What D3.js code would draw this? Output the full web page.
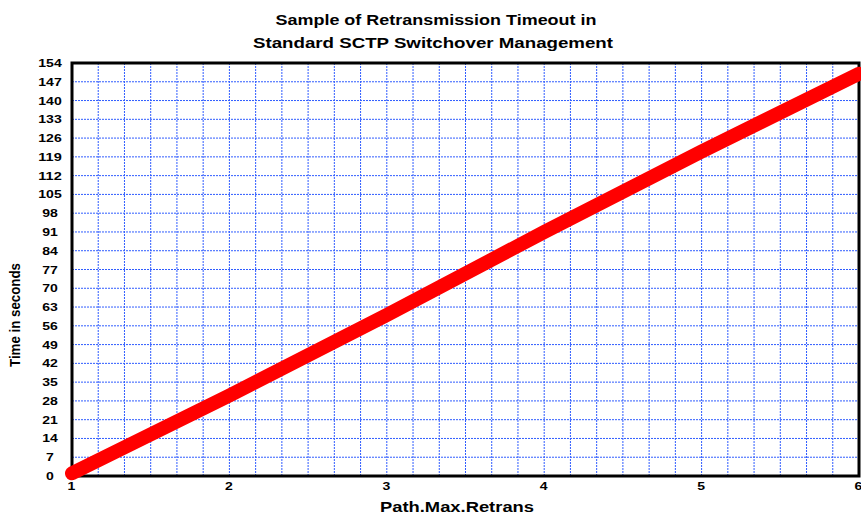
<!DOCTYPE html>
<html>
<head>
<meta charset="utf-8">
<script src="https://cdn.jsdelivr.net/npm/d3@7"></script>
<style>
    body { margin: 0; background: #fff; }
    svg { display: block; font-family: 'Liberation Sans', Arial, sans-serif; font-weight: bold; }
</style>
</head>
<body>
<svg class="main" width="861" height="518"></svg>
<script>
'use strict';

// chart data
var retrans = [1, 2, 3, 4, 5, 6];
var timeout = [1, 30, 60, 91, 121, 150];
var yTicks = d3.range(0, 155, 7);
var xTicks = [1, 2, 3, 4, 5, 6];
var titleLines = ['Sample of Retransmission Timeout in', 'Standard SCTP Switchover Management'];

var svg = d3.select('svg.main');
var plotLeft = 72, plotRight = 859, plotTop = 63, plotBottom = 476;

var x = d3.scaleLinear().domain([1, 6]).range([plotLeft, plotRight]);
var y = d3.scaleLinear().domain([0, 154]).range([plotBottom, plotTop]);

// the reference text is stretched sideways, so widths are set by hand
var digitW = 7.8;

// grid
var grid = svg.append('g').attr('class', 'grid');

grid.selectAll('.hgrid')
    .data(yTicks.slice(1))
    .enter()
    .append('line')
    .attr('x1', plotLeft)
    .attr('x2', plotRight)
    .attr('y1', function (d) { return y(d); })
    .attr('y2', function (d) { return y(d); })
    .attr('stroke', '#2f5cff')
    .attr('stroke-width', 1)
    .attr('stroke-dasharray', '2,1');

grid.selectAll('.vgrid')
    .data(d3.range(1, 30))
    .enter()
    .append('line')
    .attr('x1', function (d) { return x(1 + d / 6); })
    .attr('x2', function (d) { return x(1 + d / 6); })
    .attr('y1', plotTop)
    .attr('y2', plotBottom)
    .attr('stroke', '#2f5cff')
    .attr('stroke-width', 1)
    .attr('stroke-dasharray', '2,1');

// frame
svg.append('rect')
    .attr('x', plotLeft)
    .attr('y', plotTop)
    .attr('width', plotRight - plotLeft)
    .attr('height', plotBottom - plotTop)
    .attr('fill', 'none')
    .attr('stroke', '#000')
    .attr('stroke-width', 3);

// the series
var line = d3.line()
    .x(function (d, i) { return x(retrans[i]); })
    .y(function (d) { return y(d); });

svg.append('path')
    .datum(timeout)
    .attr('d', line)
    .attr('fill', 'none')
    .attr('stroke', '#ff0000')
    .attr('stroke-width', 14)
    .attr('stroke-linecap', 'round')
    .attr('stroke-linejoin', 'round');

// axes
var yAxis = d3.axisLeft(y).tickValues(yTicks).tickSize(0).tickPadding(0);
var yg = svg.append('g')
    .attr('transform', 'translate(50,0)')
    .call(yAxis);
yg.select('.domain').remove();
yg.selectAll('text')
    .attr('text-anchor', 'middle')
    .attr('font-size', 11)
    .attr('font-family', 'Liberation Sans, Arial, sans-serif')
    .attr('font-weight', 'bold')
    .attr('fill', '#000')
    .attr('textLength', function (d) { return String(d).length * digitW; })
    .attr('lengthAdjust', 'spacingAndGlyphs');

var xAxis = d3.axisBottom(x).tickValues(xTicks).tickSize(0).tickPadding(0).tickFormat(d3.format('d'));
var xg = svg.append('g')
    .attr('transform', 'translate(-1,' + (plotBottom + 6) + ')')
    .call(xAxis);
xg.select('.domain').remove();
xg.selectAll('text')
    .attr('font-size', 11)
    .attr('font-family', 'Liberation Sans, Arial, sans-serif')
    .attr('font-weight', 'bold')
    .attr('fill', '#000')
    .attr('textLength', digitW)
    .attr('lengthAdjust', 'spacingAndGlyphs');

// titles
var titleWidths = [321, 360];
svg.selectAll('.title')
    .data(titleLines)
    .enter()
    .append('text')
    .attr('x', function (d, i) { return i ? 433 : 436; })
    .attr('y', function (d, i) { return 25 + i * 23; })
    .attr('text-anchor', 'middle')
    .attr('font-size', 15.5)
    .attr('textLength', function (d, i) { return titleWidths[i]; })
    .attr('lengthAdjust', 'spacingAndGlyphs')
    .text(function (d) { return d; });

svg.append('text')
    .attr('x', 457)
    .attr('y', 512)
    .attr('text-anchor', 'middle')
    .attr('font-size', 14)
    .attr('textLength', 154)
    .attr('lengthAdjust', 'spacingAndGlyphs')
    .text('Path.Max.Retrans');

svg.append('text')
    .attr('transform', 'translate(20,315) rotate(-90)')
    .attr('text-anchor', 'middle')
    .attr('font-size', 15)
    .attr('textLength', 104)
    .attr('lengthAdjust', 'spacingAndGlyphs')
    .text('Time in seconds');
</script>
</body>
</html>
